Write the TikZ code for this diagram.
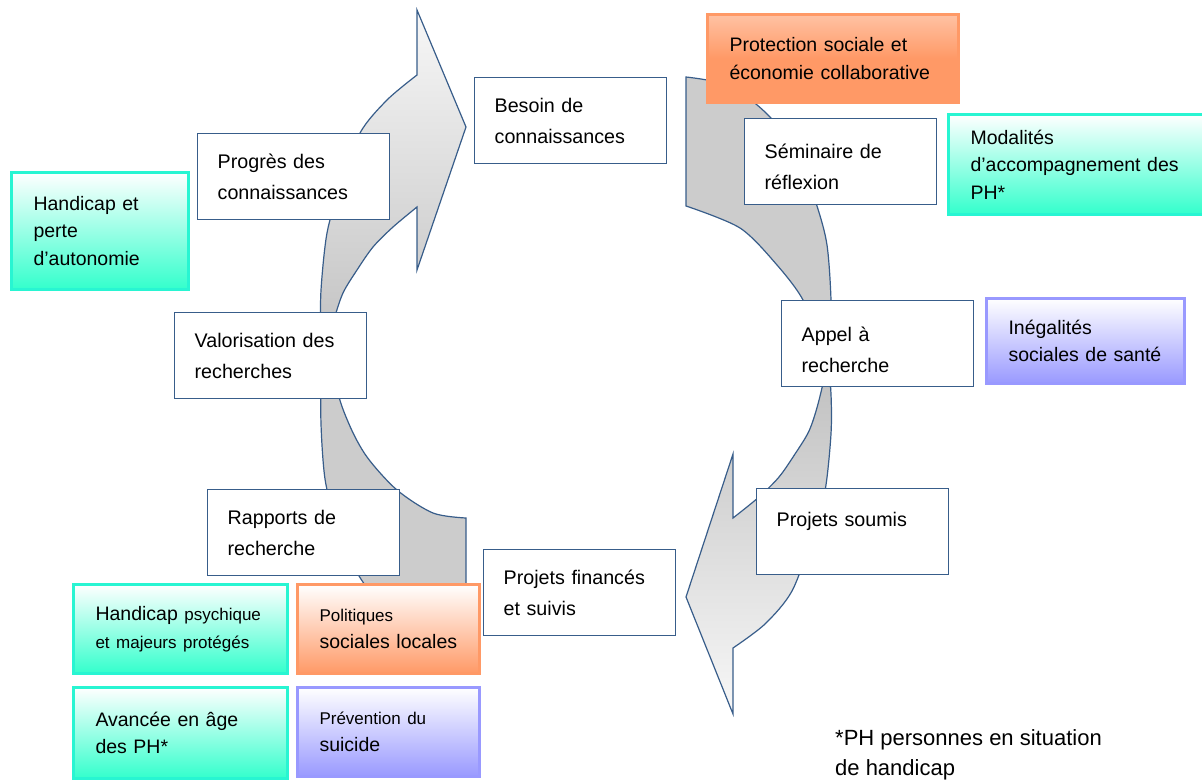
\documentclass[tikz,border=0pt]{standalone}
\usepackage{fontspec}
\setmainfont{Liberation Sans}
\usetikzlibrary{positioning}
\definecolor{boxline}{RGB}{56,93,138}
\definecolor{arrowgray}{RGB}{204,204,204}
\definecolor{themeteal}{RGB}{51,255,204}
\definecolor{tealline}{RGB}{40,245,210}
\definecolor{themeorange}{RGB}{255,153,102}
\definecolor{themelilac}{RGB}{153,153,255}

\begin{document}
\begin{tikzpicture}[
    x=1pt, y=-1pt,
    cyclebox/.style={rectangle, draw=boxline, line width=1.3pt, fill=white, anchor=north west, inner xsep=20pt, inner ysep=0pt, align=left, text width=152pt, minimum height=86pt, font=\fontsize{19.7}{31}\selectfont},
    themebox/.style={rectangle, line width=3pt, anchor=north west, inner xsep=22pt, inner ysep=0pt, align=left, font=\fontsize{19.5}{27.5}\selectfont},
    tealtheme/.style={themebox, draw=tealline, top color=white, bottom color=themeteal},
    orangetheme/.style={themebox, draw=themeorange, top color=white, bottom color=themeorange},
    lilactheme/.style={themebox, draw=themelilac, top color=white, bottom color=themelilac},
    flatarrow/.style={draw=boxline, line width=1.2pt, fill=arrowgray},
    shadearrow/.style={draw=boxline, line width=1.2pt},
    notetext/.style={inner sep=0pt, align=left, font=\fontsize{22}{30}\selectfont}
]
\useasboundingbox (0,0) rectangle (1202,782);

\filldraw[flatarrow] (686,77) -- (686,206)
  -- plot[smooth] coordinates {(686,206) (740,228) (777,265) (803,300) (816,340) (829,435)}
  -- plot[smooth] coordinates {(829,435) (831,364) (831,300) (827,245) (817,206) (800,160) (770,117) (730,86) (686,77)}
  -- cycle;
\filldraw[flatarrow] (466,647) -- (466,518)
  -- plot[smooth] coordinates {(466,518) (433,513) (397,490) (367,457) (349,424) (336,384) (323,289)}
  -- plot[smooth] coordinates {(323,289) (321,360) (321,424) (325,479) (335,518) (352,564) (382,607) (422,638) (466,647)}
  -- cycle;
\path[shadearrow, top color=white!97!black, bottom color=black!25] (417,75) -- (417,10) -- (466,127) -- (417,270) -- (417,207)
  -- plot[smooth] coordinates {(417,207) (393,227) (373,247) (357,270) (343,293) (334,320) (324,362)}
  -- plot[smooth] coordinates {(324,362) (321,330) (321,290) (327,233) (340,187) (360,133) (387,100) (417,75)}
  -- cycle;
\path[shadearrow, top color=black!25, bottom color=white!97!black] (733,648) -- (733,714) -- (686,597) -- (733,454) -- (733,518)
  -- plot[smooth] coordinates {(733,518) (759,497) (779,477) (795,454) (809,431) (818,404) (828,362)}
  -- plot[smooth] coordinates {(828,362) (831,394) (831,434) (825,491) (812,537) (792,591) (765,624) (733,648)}
  -- cycle;

\node[cyclebox] (besoin) at (474,77) {Besoin de\\connaissances};
\node[cyclebox] (seminaire) at (744,118) {\rule{0pt}{24pt}Séminaire de\\réflexion};
\node[cyclebox] (appel) at (781,300) {\rule{0pt}{26pt}Appel à\\recherche};
\node[cyclebox] (soumis) at (756,488) {\rule{0pt}{20pt}Projets soumis\\\mbox{}};
\node[cyclebox] (finances) at (483,549) {Projets financés\\et suivis};
\node[cyclebox] (rapports) at (207,489) {Rapports de\\recherche};
\node[cyclebox] (valorisation) at (174,312) {Valorisation des\\recherches};
\node[cyclebox] (progres) at (197,133) {Progrès des\\connaissances};

\node[orangetheme, top color=themeorange!60!white, middle color=themeorange, text width=207pt, minimum height=88pt] (protection) at (706,13) {Protection sociale et\\économie collaborative};
\node[tealtheme, text width=211pt, minimum height=100pt] (modalites) at (947,113) {Modalités\\d’accompagnement des\\PH*};
\node[lilactheme, text width=154pt, minimum height=85pt] (inegalites) at (985,297) {Inégalités\\sociales de santé};
\node[tealtheme, text width=133pt, minimum height=117pt] (autonomie) at (10,171) {Handicap et\\perte\\d’autonomie};
\node[tealtheme, text width=170pt, minimum height=89pt] (psychique) at (72,583) {Handicap {\fontsize{17}{27.5}\selectfont psychique}\\{\fontsize{17}{27.5}\selectfont et majeurs protégés}};
\node[orangetheme, text width=138pt, minimum height=89pt] (politiques) at (296,583) {{\fontsize{17}{27.5}\selectfont Politiques}\\sociales locales};
\node[tealtheme, text width=170pt, minimum height=91pt] (avancee) at (72,686) {Avancée en âge\\des PH*};
\node[lilactheme, text width=138pt, minimum height=89pt] (prevention) at (296,686) {{\fontsize{17}{27.5}\selectfont Prévention du}\\suicide};

\node[notetext, anchor=west] (note) at (835,755) {*PH personnes en situation\\de handicap};
\end{tikzpicture}
\end{document}
